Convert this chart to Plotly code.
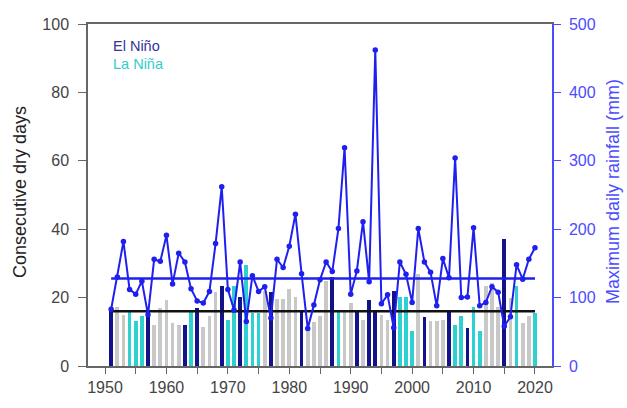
import plotly.graph_objects as go

years = list(range(1951, 2021))

# Consecutive dry days (left axis)
cdd = [16, 17.3, 15, 16, 13.3, 14.5, 16, 12, 17, 19.3,
       12.5, 12, 12, 15.7, 17, 11.3, 14.5, 21.5, 23.4, 13.5,
       23.4, 20.1, 29.6, 15.5, 15.5, 22, 21.6, 19.5, 19.5, 22.6,
       20.2, 16, 11.5, 13, 14.5, 25, 26, 16, 16.5, 18.4,
       16, 13.5, 19.2, 16, 15, 13.5, 22, 20.2, 20.2, 10.3,
       27, 14.3, 13.3, 13.3, 13.5, 16, 12.1, 14.5, 11.2, 17.3,
       10.3, 23.5, 24.2, 17.3, 37, 20, 23.4, 12.7, 14.5, 15.4]

# ENSO phase: E = El Niño, L = La Niña, N = neutral
enso = ["E", "N", "N", "L", "L", "L", "E", "N", "N", "N",
        "N", "N", "E", "L", "E", "N", "N", "N", "E", "L",
        "L", "E", "L", "L", "L", "N", "E", "N", "N", "N",
        "N", "E", "N", "N", "N", "N", "E", "L", "N", "N",
        "E", "N", "E", "E", "N", "N", "E", "L", "L", "L",
        "N", "E", "N", "N", "N", "E", "L", "L", "E", "L",
        "L", "N", "N", "N", "E", "N", "L", "N", "N", "L"]

# Maximum daily rainfall (mm, right axis)
rain = [83, 130, 182, 112, 105, 124, 75, 156, 153, 191,
        120, 165, 152, 113, 95, 92, 109, 179, 262, 112,
        82, 152, 65, 132, 109, 116, 70, 156, 144, 175,
        222, 135, 55, 89, 126, 152, 138, 201, 319, 105,
        139, 211, 123, 462, 91, 104, 56, 152, 134, 93,
        201, 152, 137, 88, 157, 129, 304, 100, 101, 202,
        88, 93, 116, 108, 58, 72, 148, 127, 156, 173]

cdd_mean = 16
rain_mean = 128

x_ticks = list(range(1950, 2021, 5))
x_ticktext = [str(v) if v % 10 == 0 else "" for v in x_ticks]

color_map = {"E": "#12128a", "L": "#2fd0d0", "N": "#c8c8c8"}
bar_colors = [color_map[c] for c in enso]

navy_text = "#34349a"
cyan_text = "#33cccc"
blue = "#1f1ff0"
axis_blue = "#4b4bff"
gray_axis = "#666666"

fig = go.Figure()
fig.add_trace(go.Bar(x=years, y=cdd, marker=dict(color=bar_colors, line=dict(width=0)),
                     width=0.62, showlegend=False))
fig.add_trace(go.Scatter(x=[years[0], years[-1]], y=[cdd_mean, cdd_mean], mode="lines",
                         line=dict(color="#111111", width=2.5), showlegend=False))
fig.add_trace(go.Scatter(x=[years[0], years[-1]], y=[rain_mean, rain_mean], mode="lines",
                         line=dict(color=blue, width=2.5), yaxis="y2", showlegend=False))
fig.add_trace(go.Scatter(x=years, y=rain, mode="lines+markers", yaxis="y2",
                         line=dict(color=blue, width=2),
                         marker=dict(color=blue, size=5.5), showlegend=False))

font_family = "Liberation Sans, Arial, sans-serif"

fig.update_layout(
    width=627, height=408,
    margin=dict(l=88, r=75, t=24, b=30),
    paper_bgcolor="white", plot_bgcolor="white",
    font=dict(family=font_family, size=16, color="#333333"),
    bargap=0,
    xaxis=dict(range=[1947.23, 2022.77], tickmode="array", tickvals=x_ticks, ticktext=x_ticktext,
               showline=True, linecolor=gray_axis, linewidth=1.5, mirror=True,
               ticks="outside", ticklen=6, tickcolor=gray_axis, tickwidth=1.2,
               showgrid=False, zeroline=False, tickfont=dict(size=16, color="#444444")),
    yaxis=dict(range=[0, 100], tickvals=[0, 20, 40, 60, 80, 100],
               showline=True, linecolor=gray_axis, linewidth=1.5,
               ticks="outside", ticklen=8, tickcolor=gray_axis, tickwidth=1.2,
               showgrid=False, zeroline=False, tickfont=dict(size=16, color="#444444"),
               ticklabelstandoff=6),
    yaxis2=dict(range=[0, 500], tickvals=[0, 100, 200, 300, 400, 500], overlaying="y", side="right",
                showline=True, linecolor=axis_blue, linewidth=1.5,
                ticks="outside", ticklen=7, tickcolor=axis_blue, tickwidth=1.2,
                showgrid=False, zeroline=False, tickfont=dict(size=16, color=axis_blue),
                ticklabelstandoff=5),
    annotations=[
        dict(text="Consecutive dry days", xref="paper", yref="paper",
             x=(20 - 88) / 464, y=(378 - 198) / 354, textangle=-90, showarrow=False,
             xanchor="center", yanchor="middle", font=dict(size=18, color="#222222")),
        dict(text="Maximum daily rainfall (mm)", xref="paper", yref="paper",
             x=(613 - 88) / 464, y=(378 - 198) / 354, textangle=-90, showarrow=False,
             xanchor="center", yanchor="middle", font=dict(size=18, color=axis_blue)),
        dict(text="El Niño", xref="paper", yref="paper", x=(111 - 88) / 464, y=(378 - 47) / 354,
             showarrow=False, xanchor="left", yanchor="middle", font=dict(size=14.5, color=navy_text)),
        dict(text="La Niña", xref="paper", yref="paper", x=(111 - 88) / 464, y=(378 - 65) / 354,
             showarrow=False, xanchor="left", yanchor="middle", font=dict(size=14.5, color=cyan_text)),
    ],
)

fig.write_html("out.html")
